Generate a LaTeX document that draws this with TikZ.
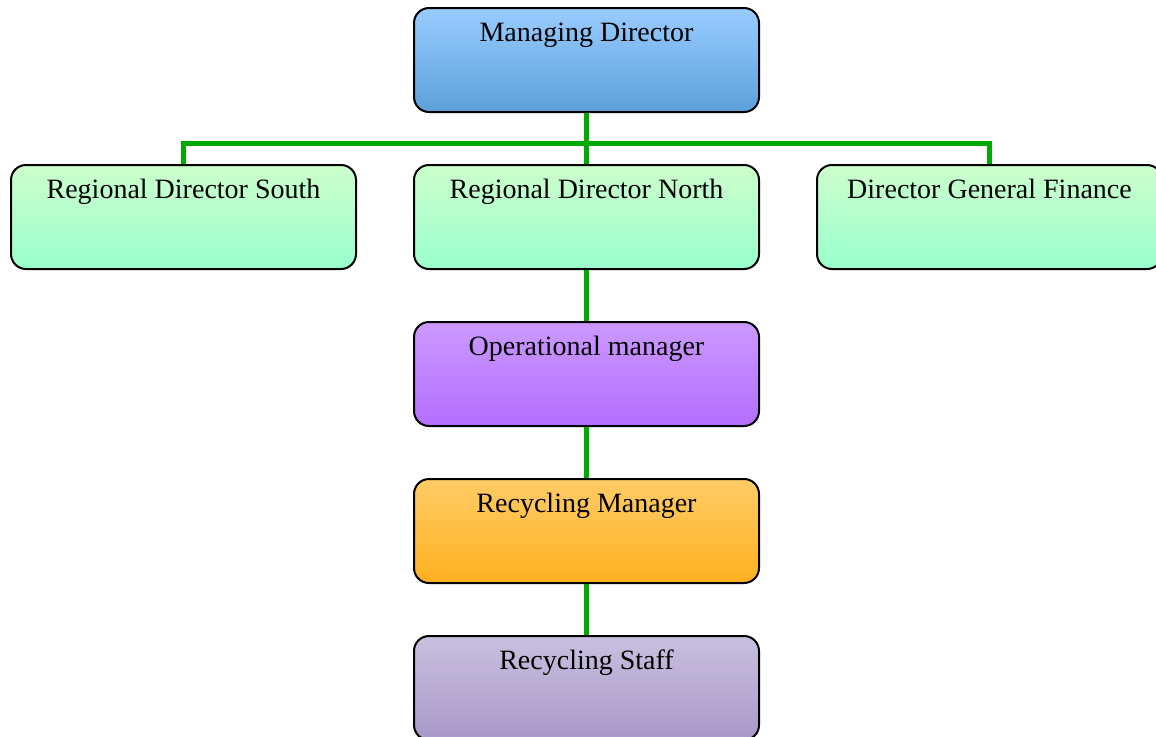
\documentclass[tikz,border=0pt]{standalone}
\usepackage{fontspec}
\setmainfont{Liberation Serif}
\usetikzlibrary{positioning}

\definecolor{mdtop}{HTML}{99CCFF}
\definecolor{mdbot}{HTML}{5BA0DA}
\definecolor{rdtop}{HTML}{CCFFCC}
\definecolor{rdbot}{HTML}{99FFCC}
\definecolor{optop}{HTML}{CC99FF}
\definecolor{opbot}{HTML}{B36EFF}
\definecolor{rmtop}{HTML}{FFCC66}
\definecolor{rmbot}{HTML}{FFB020}
\definecolor{sttop}{HTML}{C9C0DF}
\definecolor{stbot}{HTML}{A898C8}
\definecolor{linkgreen}{HTML}{00AA00}

\begin{document}
\begin{tikzpicture}[x=0.5pt,y=-0.5pt,
                    node distance=25.5pt and 28pt,
                    post/.style={draw,line width=1pt,rounded corners=7.5pt,
                                 minimum width=172.5pt,inner sep=0pt,
                                 text height=16.5pt,text depth=35.5pt,
                                 font=\fontsize{14}{16}\selectfont},
                    link/.style={draw=linkgreen,line width=2.5pt}]
\useasboundingbox (0,0) rectangle (1156,736);

\node[post,top color=mdtop,bottom color=mdbot] (md) at (586.5,60) {Managing Director};

\node[post,below=of md,top color=rdtop,bottom color=rdbot] (rdn) {Regional Director North};
\node[post,left=of rdn,top color=rdtop,bottom color=rdbot] (rds) {Regional Director South};
\node[post,right=of rdn,top color=rdtop,bottom color=rdbot] (dgf) {Director General Finance};

\node[post,below=of rdn,top color=optop,bottom color=opbot] (opm) {Operational manager};
\node[post,below=of opm,top color=rmtop,bottom color=rmbot] (rcm) {Recycling Manager};
\node[post,below=of rcm,top color=sttop,bottom color=stbot] (rcs) {Recycling Staff};

\coordinate (bus) at (586.5,143);
\draw[link] (md.south) -- (rdn.north);
\draw[link] (rds.north) |- (bus) -| (dgf.north);
\draw[link] (rdn.south) -- (opm.north);
\draw[link] (opm.south) -- (rcm.north);
\draw[link] (rcm.south) -- (rcs.north);

\end{tikzpicture}
\end{document}
